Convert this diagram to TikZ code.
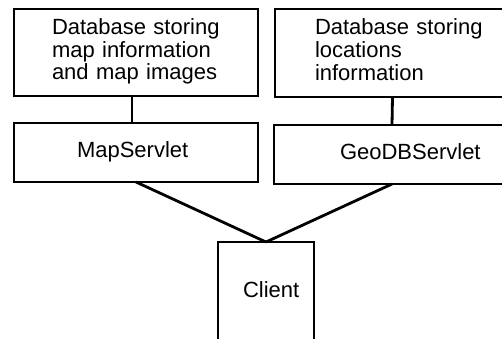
\documentclass[tikz,border=0pt]{standalone}
\usepackage{fontspec}
\setmainfont{Liberation Sans}
\usetikzlibrary{positioning}

\begin{document}
\begin{tikzpicture}[x=1pt, y=-1pt, line width=2.8pt,
		unit/.style={draw, rectangle, outer sep=0, inner xsep=0, inner ysep=0,
			align=left, font=\fontsize{22}{22.5}\selectfont},
		servlet/.style={unit, text width=#1, minimum height=59pt, text height=16pt, text depth=6pt}]
	\useasboundingbox (0,0) rectangle (502,338);
	\node[unit, anchor=north west, text width=244pt, minimum height=87pt] (dbmap) at (14, 9) {\hspace*{38pt}\raisebox{-2.5pt}{\begin{tabular}{@{}l@{}}
			Database storing \\ map information \\ and map images
	\end{tabular}}};
	\node[servlet=244pt, anchor=north west] (mapsv) at (14, 123) {\hspace*{63pt}MapServlet};
	\node[unit, anchor=north west, text width=235pt, minimum height=88pt] (dbloc) at (275, 9) {\hspace*{40pt}\raisebox{-2.5pt}{\begin{tabular}{@{}l@{}}
			Database storing \\ locations \\ information
	\end{tabular}}};
	\node[servlet=236pt, anchor=north west] (geosv) at (274, 125) {\hspace*{66pt}GeoDBServlet};
	\node[unit, anchor=north, text width=96pt, text height=55pt, text depth=60pt] (client) at (266, 242) {\hspace*{25pt}Client};
	
	\draw ([xshift=-4pt]dbmap.south) -- ([xshift=-4pt]mapsv.north);
	\draw (dbloc.south) -- (geosv.north);
	\draw (mapsv.south) -- (client.north);
	\draw (geosv.south) -- (client.north);
\end{tikzpicture}
\end{document}
